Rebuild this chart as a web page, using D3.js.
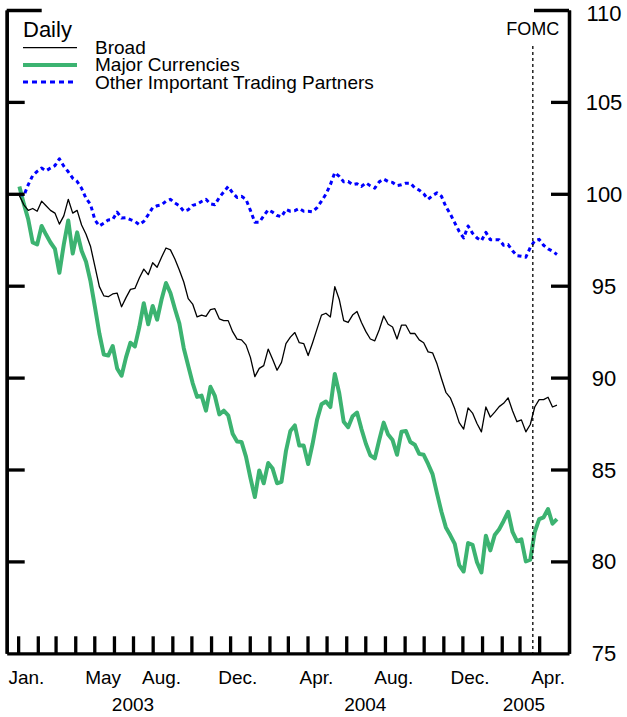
<!DOCTYPE html>
<html>
<head>
<meta charset="utf-8">
<script src="https://cdn.jsdelivr.net/npm/d3@7"></script>
<style>
  body { margin: 0; background: #fff; }
  text { font-family: "Liberation Sans", Arial, sans-serif; fill: #000; }
</style>
</head>
<body>
<div id="chart"></div>
<script>
// DATA ------------------------------------------------------------
// weekly readings, index Jan. 2003 = 100
var dates = [
  "2003-01-03","2003-01-10","2003-01-17","2003-01-24","2003-01-31","2003-02-07","2003-02-14","2003-02-21","2003-02-28","2003-03-07",
  "2003-03-14","2003-03-21","2003-03-28","2003-04-04","2003-04-11","2003-04-18","2003-04-25","2003-05-02","2003-05-09","2003-05-16",
  "2003-05-23","2003-05-30","2003-06-06","2003-06-13","2003-06-20","2003-06-27","2003-07-04","2003-07-11","2003-07-18","2003-07-25",
  "2003-08-01","2003-08-08","2003-08-15","2003-08-22","2003-08-29","2003-09-05","2003-09-12","2003-09-19","2003-09-26","2003-10-03",
  "2003-10-10","2003-10-17","2003-10-24","2003-10-31","2003-11-07","2003-11-14","2003-11-21","2003-11-28","2003-12-05","2003-12-12",
  "2003-12-19","2003-12-26","2004-01-02","2004-01-09","2004-01-16","2004-01-23","2004-01-30","2004-02-06","2004-02-13","2004-02-20",
  "2004-02-27","2004-03-05","2004-03-12","2004-03-19","2004-03-26","2004-04-02","2004-04-09","2004-04-16","2004-04-23","2004-04-30",
  "2004-05-07","2004-05-14","2004-05-21","2004-05-28","2004-06-04","2004-06-11","2004-06-18","2004-06-25","2004-07-02","2004-07-09",
  "2004-07-16","2004-07-23","2004-07-30","2004-08-06","2004-08-13","2004-08-20","2004-08-27","2004-09-03","2004-09-10","2004-09-17",
  "2004-09-24","2004-10-01","2004-10-08","2004-10-15","2004-10-22","2004-10-29","2004-11-05","2004-11-12","2004-11-19","2004-11-26",
  "2004-12-03","2004-12-10","2004-12-17","2004-12-24","2004-12-31","2005-01-07","2005-01-14","2005-01-21","2005-01-28","2005-02-04",
  "2005-02-11","2005-02-18","2005-02-25","2005-03-04","2005-03-11","2005-03-18","2005-03-25","2005-04-01","2005-04-08","2005-04-15",
  "2005-04-22","2005-04-29"
];

var broad = [
  99.9, 99.4, 99.1, 99.2, 99.05, 99.6, 99.35, 99.1, 98.95, 98.35,
  98.8, 99.7, 98.95, 99.1, 98.3, 97.8, 97.15, 96.05, 94.95, 94.45,
  94.4, 94.55, 94.6, 93.85, 94.35, 94.8, 94.85, 95.42, 95.9, 95.6,
  96.25, 96.0, 96.55, 97.05, 96.95, 96.45, 95.85, 95.2, 94.3, 94.0,
  93.3, 93.4, 93.33, 93.7, 93.75, 93.2, 93.1, 93.1, 92.5, 92.09,
  92.05, 91.78, 91.1, 90.05, 90.5, 90.65, 91.55, 91.0, 90.4, 90.83,
  91.85, 92.2, 92.45, 91.9, 91.85, 91.2, 91.9, 92.65, 93.4, 93.5,
  93.3, 94.95, 94.25, 93.1, 93.0, 93.4, 93.6, 93.0, 92.5, 92.1,
  92.0, 92.6, 93.35, 92.9, 92.75, 92.1, 92.85, 92.85, 92.4, 92.4,
  92.05, 91.9, 91.4, 91.35, 90.75, 89.95, 89.2, 88.9, 88.3, 87.55,
  87.2, 88.35, 88.07, 87.5, 87.05, 88.4, 87.85, 88.12, 88.42, 88.6,
  88.9, 88.2, 87.6, 87.7, 87.05, 87.45, 88.4, 88.8, 88.8, 88.93,
  88.4, 88.5
];

var major = [
  100.4, 99.45, 98.6, 97.35, 97.24, 98.25, 97.78, 97.35, 97.0, 95.7,
  97.25, 98.55, 96.75, 97.9, 96.9, 96.3, 95.25, 93.85, 92.4, 91.25,
  91.2, 91.72, 90.5, 90.1, 91.1, 91.9, 91.7, 92.75, 94.05, 92.9,
  93.9, 93.15, 94.25, 95.15, 94.6, 93.75, 92.95, 91.6, 90.65, 89.7,
  88.95, 89.02, 88.2, 89.5, 89.0, 88.0, 88.2, 87.95, 86.95, 86.52,
  86.5, 85.7, 84.55, 83.5, 84.95, 84.25, 85.35, 85.05, 84.25, 84.33,
  86.0, 87.1, 87.4, 86.3, 86.3, 85.3, 86.4, 87.7, 88.55, 88.7,
  88.4, 90.2, 89.15, 87.6, 87.3, 87.9, 88.1, 87.2, 86.4, 85.77,
  85.6, 86.6, 87.55, 86.9, 86.6, 85.8, 87.05, 87.1, 86.5, 86.35,
  85.85, 85.8, 85.3, 84.75, 83.7, 82.7, 81.85, 81.42, 80.95, 79.8,
  79.45, 81.0, 80.9, 79.95, 79.4, 81.4, 80.6, 81.44, 81.75, 82.2,
  82.7, 81.6, 81.1, 81.2, 80.0, 80.1, 81.6, 82.3, 82.4, 82.85,
  82.05, 82.3
];

var other = [
  100.0, 99.9, 100.5, 101.0, 101.22, 101.4, 101.25, 101.4, 101.53, 101.9,
  101.5, 101.2, 100.85, 100.67, 100.3, 99.75, 99.43, 98.58, 98.25, 98.4,
  98.58, 98.6, 99.0, 98.68, 98.7, 98.59, 98.5, 98.32, 98.5, 98.86,
  99.25, 99.35, 99.4, 99.6, 99.7, 99.5, 99.35, 99.05, 99.13, 99.37,
  99.43, 99.58, 99.7, 99.45, 99.4, 99.8, 100.1, 100.4, 100.05, 99.8,
  99.86, 99.7, 99.1, 98.45, 98.45, 98.8, 99.13, 99.0, 98.82, 98.75,
  99.15, 99.05, 99.08, 99.2, 99.05, 99.05, 99.02, 99.25, 99.6, 99.98,
  100.5, 101.15, 100.95, 100.65, 100.67, 100.5, 100.55, 100.4, 100.6, 100.43,
  100.31, 100.65, 100.8, 100.67, 100.62, 100.45, 100.49, 100.58, 100.58, 100.32,
  100.2, 100.0, 99.7, 99.9, 100.05, 99.87, 99.3, 98.9, 98.42, 97.95,
  97.6, 98.25, 97.85, 97.6, 97.45, 97.9, 97.5, 97.5, 97.5, 97.2,
  97.24, 96.9, 96.63, 96.6, 96.55, 97.08, 97.45, 97.52, 97.2, 97.0,
  96.88, 96.7
];

// axis labels
var yTicks = [80, 85, 90, 95, 100, 105];
var yLabels = [75, 80, 85, 90, 95, 100, 105, 110];
var monthLabels = ["Jan.", "May", "Aug.", "Dec.", "Apr.", "Aug.", "Dec.", "Apr."];
var monthLabelDates = ["2003-01-14", "2003-05-15", "2003-08-15", "2003-12-13",
                       "2004-04-15", "2004-08-15", "2004-12-13", "2005-04-15"];
var yearLabels = ["2003", "2004", "2005"];
var yearLabelDates = ["2003-07-01", "2004-07-01", "2005-03-08"];
var fomcDate = "2005-03-22";

// SVG ------------------------------------------------------------
var width = 627,
    height = 717;

var svg = d3.select("#chart")
	.append("svg")
	.attr("width", width)
	.attr("height", height);

var parse = d3.timeParse("%Y-%m-%d");

var x = d3.scaleTime()
	.domain([parse("2002-12-14"), parse("2005-05-18")])
	.range([6.7, 569]);

var y = d3.scaleLinear()
	.domain([75, 110])
	.range([653.3, 10]);

var colors = {
	'broad': '#000000',
	'major': '#3cb371',
	'other': '#0000ff'
};

// SERIES ------------------------------------------------------------
function drawSeries(values, color, w, dash) {
	var rows = values.map(function(v, i) { return {date: parse(dates[i]), value: v}; });
	var line = d3.line()
		.x(function(d) { return x(d.date); })
		.y(function(d) { return y(d.value); });
	svg.append("path")
		.datum(rows)
		.attr("d", line)
		.attr("fill", "none")
		.attr("stroke", color)
		.attr("stroke-width", w)
		.attr("stroke-linejoin", "round")
		.attr("stroke-dasharray", dash);
}

drawSeries(major, colors.major, 4, null);
drawSeries(broad, colors.broad, 1.3, null);
drawSeries(other, colors.other, 3, "4,3.5");

// FOMC marker
svg.append("line")
	.attr("x1", x(parse(fomcDate)))
	.attr("x2", x(parse(fomcDate)))
	.attr("y1", 46)
	.attr("y2", y(75))
	.attr("stroke", "#000")
	.attr("stroke-width", 1.3)
	.attr("stroke-dasharray", "3,3");

svg.append("text")
	.attr("x", x(parse(fomcDate)))
	.attr("y", 35)
	.attr("text-anchor", "middle")
	.attr("font-size", "18px")
	.text("FOMC");

// AXES ------------------------------------------------------------
function styleAxis(g) {
	g.select(".domain").attr("stroke", "#000").attr("stroke-width", 3.3);
	g.selectAll(".tick line").attr("stroke", "#000").attr("stroke-width", 3.3);
}

var months = d3.timeMonth.range(parse("2003-01-01"), parse("2005-04-02"));

svg.append("g")
	.attr("transform", "translate(0," + y(75) + ")")
	.call(d3.axisBottom(x).tickValues(months).tickSize(-17).tickSizeOuter(0).tickFormat(""))
	.call(styleAxis);

svg.append("g")
	.attr("transform", "translate(" + x.range()[0] + ",0)")
	.call(d3.axisLeft(y).tickValues(yTicks).tickSize(-18).tickSizeOuter(0).tickFormat(""))
	.call(styleAxis);

svg.append("g")
	.attr("transform", "translate(" + x.range()[1] + ",0)")
	.call(d3.axisRight(y).tickValues(yTicks).tickSize(-18).tickSizeOuter(0).tickFormat(""))
	.call(styleAxis);

// longer tick at the top of both sides
svg.append("g")
	.attr("transform", "translate(" + x.range()[0] + ",0)")
	.call(d3.axisLeft(y).tickValues([110]).tickSize(-35).tickSizeOuter(0).tickFormat(""))
	.call(styleAxis);

svg.append("g")
	.attr("transform", "translate(" + x.range()[1] + ",0)")
	.call(d3.axisRight(y).tickValues([110]).tickSize(-35).tickSizeOuter(0).tickFormat(""))
	.call(styleAxis);

svg.selectAll("text.ylab")
	.data(yLabels)
	.enter()
	.append("text")
	.attr("class", "ylab")
	.attr("x", 604)
	.attr("y", function(d) { return Math.max(y(d) + 8, 21); })
	.attr("text-anchor", "middle")
	.attr("font-size", "22px")
	.text(function(d) { return d; });

svg.selectAll("text.mlab")
	.data(monthLabels)
	.enter()
	.append("text")
	.attr("class", "mlab")
	.attr("x", function(d, i) { return x(parse(monthLabelDates[i])); })
	.attr("y", 684)
	.attr("text-anchor", "middle")
	.attr("font-size", "19px")
	.text(function(d) { return d; });

svg.selectAll("text.yrlab")
	.data(yearLabels)
	.enter()
	.append("text")
	.attr("class", "yrlab")
	.attr("x", function(d, i) { return x(parse(yearLabelDates[i])); })
	.attr("y", 711)
	.attr("text-anchor", "middle")
	.attr("font-size", "19px")
	.text(function(d) { return d; });

// LEGEND ------------------------------------------------------------
svg.append("text")
	.attr("x", 23)
	.attr("y", 37)
	.attr("font-size", "22px")
	.text("Daily");

var legend = [
	{name: "Broad", color: colors.broad, w: 1.3, dash: null},
	{name: "Major Currencies", color: colors.major, w: 4, dash: null},
	{name: "Other Important Trading Partners", color: colors.other, w: 3, dash: "5,4"}
];

var items = svg.selectAll("g.legend")
	.data(legend)
	.enter()
	.append("g")
	.attr("class", "legend")
	.attr("transform", function(d, i) { return "translate(0," + (47.7 + i * 17.2) + ")"; });

items.append("line")
	.attr("x1", 23)
	.attr("x2", 77)
	.attr("stroke", function(d) { return d.color; })
	.attr("stroke-width", function(d) { return d.w; })
	.attr("stroke-dasharray", function(d) { return d.dash; });

items.append("text")
	.attr("x", 95)
	.attr("y", 6.5)
	.attr("font-size", "19px")
	.text(function(d) { return d.name; });
</script>
</body>
</html>
